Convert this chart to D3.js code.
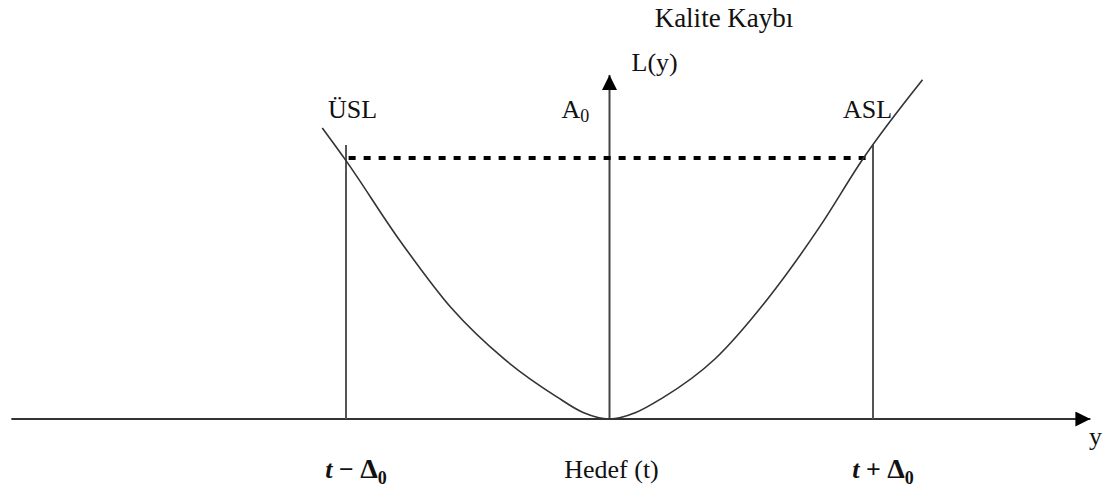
<!DOCTYPE html>
<html>
<head>
<meta charset="utf-8">
<script src="https://cdn.jsdelivr.net/npm/d3@7"></script>
<style>
  body { margin: 0; background: #fff; }
  text { font-family: "Liberation Serif", "Times New Roman", serif; fill: #111; }
</style>
</head>
<body>
<div id="viz"></div>
<script>
const width = 1114;
const height = 491;

// loss curve (y in units of delta, L in units of A0)
const curveY = [-1.09, -1.0, -0.8, -0.6, -0.4, -0.2, -0.1, 0, 0.1, 0.2, 0.4, 0.6, 0.8, 0.964, 1.188];
const curveL = [1.115, 0.99, 0.69, 0.425, 0.23, 0.085, 0.025, 0, 0.025, 0.08, 0.23, 0.46, 0.74, 1.0, 1.30];

const limitY = [-1, 1];
const limitLabels = ["ÜSL", "ASL"];
const targetY = 0;
const lossAtLimit = 1; // A0
const tickY = [-1, 0, 1];

// extents of the drawn axes and guides
const hAxisExtent = [-2.27, 1.825];
const vAxisTop = 1.318;
const limitTop = 1.05;
const dashExtent = [-0.99, 0.99];

const svg = d3.select("#viz")
    .append("svg")
    .attr("width", width)
    .attr("height", height);

const xScale = d3.scaleLinear()
    .domain([-1, 1])
    .range([346, 873]);

const yScale = d3.scaleLinear()
    .domain([0, 1])
    .range([419, 158]);

const defs = svg.append("defs");
defs.append("marker")
    .attr("id", "arrow")
    .attr("viewBox", "0 0 10 10")
    .attr("refX", 10)
    .attr("refY", 5)
    .attr("markerWidth", 17)
    .attr("markerHeight", 15)
    .attr("markerUnits", "userSpaceOnUse")
    .attr("orient", "auto")
    .append("path")
    .attr("d", "M0,0 L10,5 L0,10 Z")
    .attr("fill", "#000");

// horizontal axis
svg.append("line")
    .attr("x1", xScale(hAxisExtent[0]))
    .attr("x2", xScale(hAxisExtent[1]))
    .attr("y1", yScale(0))
    .attr("y2", yScale(0))
    .attr("stroke", "#333")
    .attr("stroke-width", 2)
    .attr("marker-end", "url(#arrow)");

// vertical axis at target
svg.append("line")
    .attr("x1", xScale(targetY))
    .attr("x2", xScale(targetY))
    .attr("y1", yScale(0))
    .attr("y2", yScale(vAxisTop))
    .attr("stroke", "#444")
    .attr("stroke-width", 2)
    .attr("marker-end", "url(#arrow)");

// spec limit verticals
svg.selectAll(".limit")
    .data(limitY)
    .enter().append("line")
    .attr("class", "limit")
    .attr("x1", d => xScale(d))
    .attr("x2", d => xScale(d))
    .attr("y1", yScale(0))
    .attr("y2", yScale(limitTop))
    .attr("stroke", "#555")
    .attr("stroke-width", 2);

// dashed A0 level
svg.append("line")
    .attr("x1", xScale(dashExtent[0]))
    .attr("x2", xScale(dashExtent[1]))
    .attr("y1", yScale(lossAtLimit))
    .attr("y2", yScale(lossAtLimit))
    .attr("stroke", "#000")
    .attr("stroke-width", 4)
    .attr("stroke-dasharray", "7 8");

// loss curve
const line = d3.line()
    .x((d, i) => xScale(curveY[i]))
    .y((d, i) => yScale(curveL[i]))
    .curve(d3.curveMonotoneX);

svg.append("path")
    .datum(curveY)
    .attr("d", line)
    .attr("fill", "none")
    .attr("stroke", "#333")
    .attr("stroke-width", 1.6);

// titles
svg.append("text")
    .attr("x", 724)
    .attr("y", 27)
    .attr("text-anchor", "middle")
    .attr("font-size", 27)
    .text("Kalite Kaybı");

svg.append("text")
    .attr("x", xScale(targetY) + 22)
    .attr("y", 71)
    .attr("font-size", 26)
    .text("L(y)");

const a0 = svg.append("text")
    .attr("x", xScale(targetY) - 48)
    .attr("y", 118)
    .attr("font-size", 26);
a0.append("tspan").text("A");
a0.append("tspan").attr("font-size", 18).attr("dy", 4).text("0");

svg.selectAll(".limit-label")
    .data(limitLabels)
    .enter().append("text")
    .attr("class", "limit-label")
    .attr("x", (d, i) => i === 0 ? xScale(limitY[i]) - 18 : xScale(limitY[i]) - 30)
    .attr("y", 118)
    .attr("font-size", 26)
    .text(d => d);

svg.append("text")
    .attr("x", 1089)
    .attr("y", 445)
    .attr("font-size", 26)
    .text("y");

// labels under the axis
const tickText = svg.selectAll(".tick-label")
    .data(tickY)
    .enter().append("text")
    .attr("class", "tick-label")
    .attr("x", d => xScale(d) + (d === 0 ? 2 : 10))
    .attr("y", 478)
    .attr("text-anchor", "middle")
    .attr("font-size", 26);

tickText.each(function (d) {
    const t = d3.select(this);
    if (d === 0) {
        t.text("Hedef (t)");
        return;
    }
    t.append("tspan").attr("font-style", "italic").attr("font-weight", "bold").text("t");
    t.append("tspan").attr("font-weight", "bold").text(d < 0 ? " − " : " + ");
    t.append("tspan").attr("font-weight", "bold").attr("font-size", 28).text("Δ");
    t.append("tspan").attr("font-weight", "bold").attr("font-size", 18).attr("dy", 6).text("0");
});
</script>
</body>
</html>
